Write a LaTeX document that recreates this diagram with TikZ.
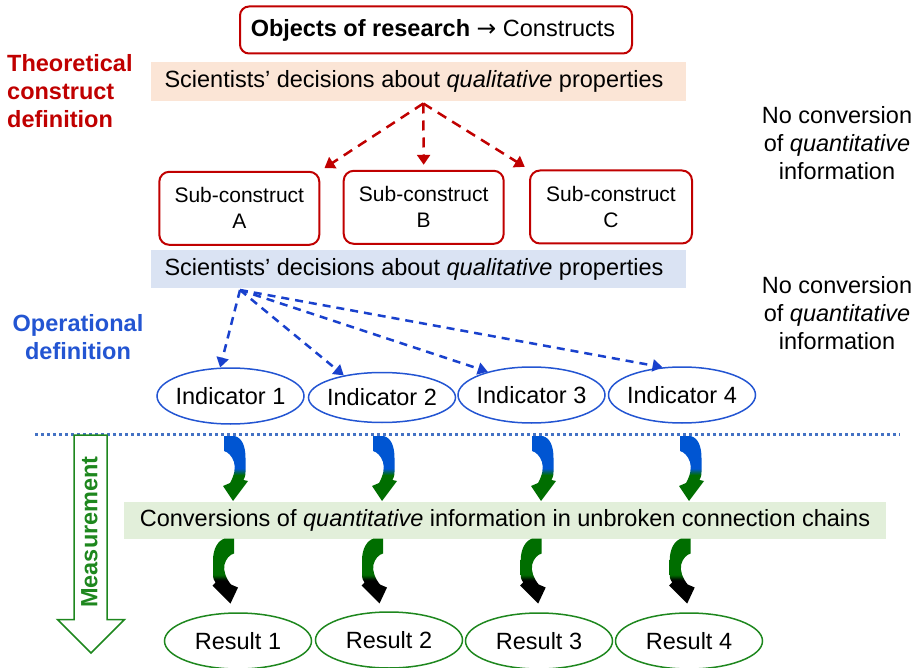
\documentclass[tikz,border=0pt]{standalone}
\usepackage{fontspec}
\setmainfont{Liberation Sans}
\newfontfamily\symfont{DejaVu Sans}
\usepackage{tikz}
\usetikzlibrary{arrows.meta,shapes.geometric}
\definecolor{dred}{RGB}{192,0,0}
\definecolor{lorange}{RGB}{251,229,214}
\definecolor{lblue}{RGB}{218,227,243}
\definecolor{lgreen}{RGB}{226,239,218}
\definecolor{tblue}{RGB}{35,85,210}
\definecolor{ablue}{RGB}{25,65,205}
\definecolor{dotblue}{RGB}{68,114,196}
\definecolor{mgreen}{RGB}{30,135,30}
\definecolor{cblue}{RGB}{0,85,210}
\definecolor{cgreen}{RGB}{0,110,0}
\pgfdeclareverticalshading{bluegreen}{100bp}{color(0bp)=(cgreen); color(45bp)=(cgreen); color(50bp)=(cblue); color(100bp)=(cblue)}
\pgfdeclareverticalshading{greenblack}{100bp}{color(0bp)=(black); color(43bp)=(black); color(47bp)=(cgreen); color(100bp)=(cgreen)}
\tikzstyle{fig}=[x=1pt, y=-1pt, every node/.style={font=\fontsize{23.5}{28}\selectfont,
                inner sep=0pt, text=black}]
\tikzstyle{topbox}=[draw=dred, line width=2pt, rounded corners=9pt,
                minimum width=392pt, minimum height=47pt]
\tikzstyle{band}=[minimum width=535pt, minimum height=38.5pt]
\tikzstyle{subbox}=[draw=dred, line width=2pt, rounded corners=10pt, align=center,
                minimum width=160pt, minimum height=73pt, font=\fontsize{21}{26}\selectfont]
\tikzstyle{indi}=[ellipse, draw=tblue, line width=1.5pt, inner xsep=-5pt,
                minimum width=147pt, minimum height=56pt]
\tikzstyle{res}=[ellipse, draw=mgreen, line width=1.5pt, inner xsep=-5pt,
                minimum width=147pt, minimum height=56pt]
\tikzstyle{rarr}=[-{Triangle[length=10pt,width=13pt]}, draw=dred, line width=2.5pt,
                dash pattern=on 10pt off 7pt, shorten >=5pt]
\tikzstyle{barr}=[-{Triangle[length=10pt,width=12pt]}, draw=ablue, line width=2.5pt,
                dash pattern=on 8pt off 6pt]
\tikzstyle{sidelabel}=[align=center, font=\fontsize{23.5}{28}\selectfont\bfseries]
\tikzset{upturn/.pic={
    \shade[shading=bluegreen] (0,0) -- (10.7,0) .. controls (18,2) and (21.5,10) .. (21.5,22)
      -- (21.5,36) .. controls (21.5,40) and (20.5,42) .. (19.5,44) -- (24,45) -- (9,65)
      -- (-1,50) -- (6,47) .. controls (10,40) and (12,32) .. (10,26)
      .. controls (8,20) and (4,16) .. (0,15) -- cycle;
  },
  downturn/.pic={
    \shade[shading=greenblack] (0,0) -- (9.3,0) .. controls (16,2) and (21,10) .. (21,22)
      -- (21,36) .. controls (21,40) and (20,42) .. (18.5,44) -- (21.5,47) -- (3.5,65)
      -- (-4,49) -- (3,46) .. controls (8,40) and (11,32) .. (9.5,26)
      .. controls (8,20) and (4,16) .. (0,15) -- cycle;
  }}

\begin{document}
\begin{tikzpicture}[fig]
    \useasboundingbox (0,0) rectangle (921,668);
    % upper part: constructs
    \node[topbox] (obj) at (436,30) {\textbf{Objects of research} {\symfont →} Constructs\hspace*{6pt}};
    \node[sidelabel, align=left, text=dred, anchor=west] (theolab) at (7,91)
      {Theoretical\\construct\\definition};
    \node[band, fill=lorange] (theo) at (418.5,81.5)
      {Scientists’ decisions about \textit{qualitative} properties\hspace*{9pt}};
    \node[align=center] (noconv1) at (837,143) {No conversion\\of \textit{quantitative}\\information};
    \node[subbox] (subA) at (239.3,208.3) {Sub-construct\\A};
    \node[subbox] (subB) at (423.7,207.3) {Sub-construct\\B};
    \node[subbox, minimum width=162pt] (subC) at (611,207) {Sub-construct\\C};
    \coordinate (tsrc) at (423.3,103.5);
    \path (tsrc) edge[rarr] (subA.north east)
                 edge[rarr] (subB.north)
                 edge[rarr] (subC.north west);
    % operational definition
    \node[band, fill=lblue] (oper) at (418.5,269) 
      {Scientists’ decisions about \textit{qualitative} properties\hspace*{9pt}};
    \node[sidelabel, text=tblue] (operlab) at (78,337) {Operational\\definition};
    \node[align=center] (noconv2) at (837,313) {No conversion\\of \textit{quantitative}\\information};
    \node[indi] (ind1) at (230.5,396) {Indicator 1};
    \node[indi, minimum height=50pt] (ind2) at (382,397.5) {Indicator 2};
    \node[indi] (ind3) at (531.5,395) {Indicator 3};
    \node[indi] (ind4) at (682,395) {Indicator 4};
    \coordinate (osrc) at (240,290);
    \path (osrc) edge[barr] (ind1.110)
                 edge[barr] (ind2.150)
                 edge[barr] (ind3.152)
                 edge[barr] (ind4.125);
    % measurement
    \draw[dotblue, line width=3pt, dash pattern=on 3pt off 3pt] (35,434) -- (900,434);
    \draw[mgreen, line width=1.5pt, fill=white] (74,435) -- (107,435) -- (107,619.5)
      -- (124.5,619.5) -- (91,653) -- (57.5,619.5) -- (74,619.5) -- cycle;
    \node[sidelabel, text=mgreen, rotate=90] (meas) at (89.5,532) {Measurement};
    \node[band, fill=lgreen, minimum width=762pt, minimum height=37pt] (conv) at (505,520.5)
      {Conversions of \textit{quantitative} information in unbroken connection chains};
    \foreach \x in {224,373,532,680}
      \pic at (\x,436) {upturn};
    \foreach \x in {234,383,541.7,690.7}
      \pic[xscale=-1] at (\x,538.5) {downturn};
    \node[res] (res1) at (238,641) {Result 1};
    \node[res] (res2) at (389,640) {Result 2};
    \node[res] (res3) at (539,641) {Result 3};
    \node[res] (res4) at (689,641) {Result 4};
\end{tikzpicture}
\end{document}
